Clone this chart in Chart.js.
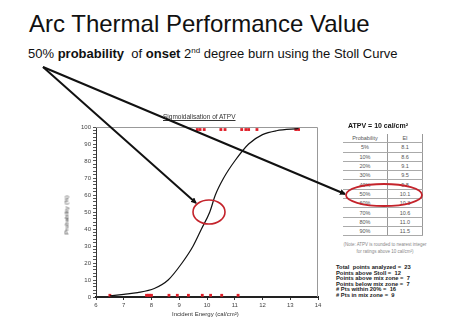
<!DOCTYPE html>
<html>
<head>
<meta charset="utf-8">
<script src="https://cdn.jsdelivr.net/npm/chart.js@4/dist/chart.umd.min.js"></script>
<style>
  body { margin: 0; width: 450px; height: 327px; background: #fff; font-family: "Liberation Sans", Arial, sans-serif; position: relative; overflow: hidden; }
  #title { position: absolute; left: 29px; top: 10px; font-size: 24px; color: #111; white-space: nowrap; }
  #subtitle { position: absolute; left: 28px; top: 46px; font-size: 13px; color: #111; white-space: nowrap; }
  #subtitle sup { font-size: 8px; }
  #chartBox { position: absolute; left: 60px; top: 108px; width: 264px; height: 214px; }
  #chartTitle { position: absolute; left: 163px; top: 113px; font-size: 6.5px; color: #333; text-decoration: underline; white-space: nowrap; }
  #yTitle { position: absolute; left: 47px; top: 212px; font-size: 6px; color: #333; transform: rotate(-90deg); white-space: nowrap; }
  #xTitle { position: absolute; left: 172px; top: 311px; font-size: 6px; color: #333; white-space: nowrap; }
  #atpv { position: absolute; left: 348px; top: 122px; font-size: 7px; font-weight: bold; color: #111; white-space: nowrap; }
  #eiTable { position: absolute; left: 343px; top: 134px; border-collapse: collapse; font-size: 5.5px; color: #555; }
  #eiTable td { height: 8.3px; padding: 0; text-align: center; border-bottom: 1px solid #aaa; }
  #eiTable td:first-child { width: 44px; border-right: 1px solid #999; }
  #eiTable td:last-child { width: 34px; border-right: 1px solid #999; }
  #note { position: absolute; left: 340px; top: 242px; width: 90px; font-size: 4.5px; line-height: 6.5px; color: #888; text-align: center; }
  #stats { position: absolute; left: 336px; top: 265px; font-size: 5.8px; line-height: 5.6px; font-weight: bold; color: #222; white-space: pre; }
  #overlay { position: absolute; left: 0; top: 0; }
</style>
</head>
<body>
<div id="title">Arc Thermal Performance Value</div>
<div id="subtitle">50% <b>probability</b>&nbsp; of <b>onset</b> 2<sup>nd</sup> degree burn using the Stoll Curve</div>

<div id="chartBox"><canvas id="chart"></canvas></div>
<div id="chartTitle">Sigmoidalisation of ATPV</div>
<div id="yTitle">Probability (%)</div>
<div id="xTitle">Incident Energy (cal/cm²)</div>

<div id="atpv">ATPV = 10 cal/cm²</div>
<table id="eiTable"></table>
<div id="note">(Note: ATPV is rounded to nearest integer<br>for ratings above 10 cal/cm²)</div>
<div id="stats"></div>

<svg id="overlay" width="450" height="327">
  <defs>
    <marker id="head" markerWidth="6" markerHeight="6" refX="5" refY="3" orient="auto" markerUnits="userSpaceOnUse">
      <path d="M0,0 L6,3 L0,6 z" fill="#111"/>
    </marker>
  </defs>
  <line x1="43" y1="67" x2="196" y2="203" stroke="#111" stroke-width="2" marker-end="url(#head)"/>
  <line x1="43" y1="67" x2="345" y2="194" stroke="#111" stroke-width="2" marker-end="url(#head)"/>
  <ellipse cx="209" cy="212" rx="16" ry="12" fill="none" stroke="#c4232b" stroke-width="1.6"/>
  <ellipse cx="384" cy="195" rx="38" ry="11" fill="none" stroke="#c4232b" stroke-width="1.8"/>
</svg>

<script>
// fitted Stoll curve (energy, probability)
const curveEnergy = [6.5, 7.0, 7.5, 8.1, 8.6, 9.1, 9.5, 9.8, 10.1, 10.3, 10.6, 11.0, 11.5, 12.0, 12.5, 13.3];
const curveProb = [0.7, 1.6, 2.6, 5, 10, 20, 30, 40, 50, 60, 70, 80, 90, 95.5, 97.8, 99];

// test shots: burn (top row) and no burn (bottom row)
const burnEnergy = [9.65, 9.75, 9.9, 10.5, 10.65, 11.25, 11.4, 11.5, 11.8, 13.2, 13.3];
const noBurnEnergy = [6.5, 7.82, 7.88, 7.94, 8.0, 8.63, 8.93, 9.33, 9.83, 10.13, 10.53, 11.12];
const burnLevel = 98.5;
const noBurnLevel = 1;

// table of incident energy per probability
const tableProb = ["5%", "10%", "20%", "30%", "40%", "50%", "60%", "70%", "80%", "90%"];
const tableEI = ["8.1", "8.6", "9.1", "9.5", "9.8", "10.1", "10.3", "10.6", "11.0", "11.5"];

const statLabels = ["Total  points analyzed =  ", "Points above Stoll =  ", "Points above mix zone =  ", "Points below mix zone =  ", "# Pts within 20% =  ", "# Pts in mix zone =  "];
const statValues = [23, 12, 7, 7, 16, 9];

// fill table and stats
const table = document.getElementById("eiTable");
let rows = "<tr><td>Probability</td><td>EI</td></tr>";
tableProb.forEach((p, i) => {
  rows += `<tr><td>${p}</td><td>${tableEI[i]}</td></tr>`;
});
table.innerHTML = rows;
document.getElementById("stats").textContent = statLabels.map((l, i) => l + statValues[i]).join("\n");

// frame on top and right of plot area
const framePlugin = {
  id: "frame",
  afterDraw(chart) {
    const { ctx, chartArea: a } = chart;
    ctx.save();
    ctx.strokeStyle = "#999";
    ctx.lineWidth = 1;
    ctx.beginPath();
    ctx.moveTo(a.left, a.top + 0.5);
    ctx.lineTo(a.right - 0.5, a.top + 0.5);
    ctx.lineTo(a.right - 0.5, a.bottom);
    ctx.stroke();
    ctx.restore();
  },
};

const tickFont = { family: "Liberation Sans", size: 6 };

new Chart(document.getElementById("chart"), {
  data: {
    datasets: [
      {
        type: "line",
        data: curveEnergy.map((x, i) => ({ x, y: curveProb[i] })),
        borderColor: "#111",
        borderWidth: 1.2,
        pointRadius: 0,
        cubicInterpolationMode: "monotone",
      },
      {
        type: "scatter",
        data: [
          ...burnEnergy.map((x) => ({ x, y: burnLevel })),
          ...noBurnEnergy.map((x) => ({ x, y: noBurnLevel })),
        ],
        pointStyle: "rect",
        pointRadius: 2,
        backgroundColor: "#e0202a",
        borderColor: "#e0202a",
        borderWidth: 0,
      },
    ],
  },
  options: {
    responsive: true,
    maintainAspectRatio: false,
    animation: false,
    layout: { padding: { top: 19, right: 6, left: 0, bottom: 0 } },
    plugins: { legend: { display: false }, tooltip: { enabled: false } },
    scales: {
      x: {
        type: "linear",
        min: 6,
        max: 14,
        ticks: { stepSize: 1, color: "#444", font: tickFont, padding: 2 },
        grid: { drawOnChartArea: false, tickLength: 3, color: "#333" },
        border: { color: "#222", width: 2 },
        afterFit: (s) => { s.height = 25; },
      },
      y: {
        min: 0,
        max: 100,
        ticks: {
          stepSize: 2,
          autoSkip: false,
          color: "#444",
          font: tickFont,
          padding: 2,
          callback: (v) => (v % 10 === 0 ? v : ""),
        },
        grid: { drawOnChartArea: false, tickLength: 3, color: "#555" },
        border: { color: "#333", width: 1 },
        afterFit: (s) => { s.width = 36; },
      },
    },
  },
  plugins: [framePlugin],
});
</script>
</body>
</html>
